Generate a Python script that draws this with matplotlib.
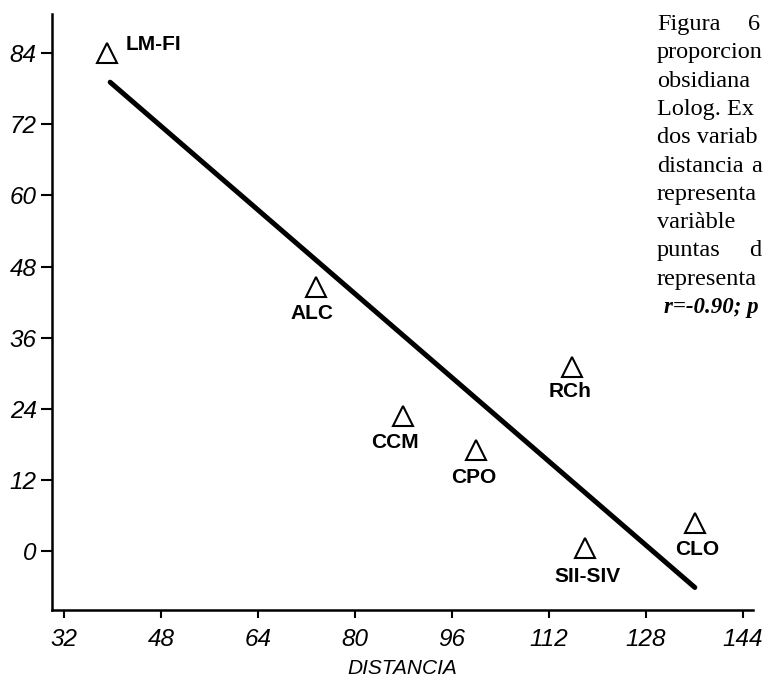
# Figura 6 - proporción de obsidiana vs distancia (Lolog), dispersión + recta de regresión
import matplotlib
matplotlib.use("Agg")
import matplotlib.pyplot as plt

sites = ["LM-FI", "ALC", "RCh", "CCM", "CPO", "SII-SIV", "CLO"]
distancia = [39.1, 73.6, 115.8, 87.9, 100.0, 118.0, 136.1]
porcentaje = [84.1, 44.5, 31.0, 22.8, 17.0, 0.5, 4.7]

# extremos de la recta dibujada en la figura
fit_x = [39.6, 136.1]
fit_y = [79.1, -6.1]

x_ticks = [32, 48, 64, 80, 96, 112, 128, 144]
y_ticks = [0, 12, 24, 36, 48, 60, 72, 84]

caption = ["proporcion", "obsidiana", "Lolog. Ex", "dos variab", "distancia",
           "representa", "variàble", "puntas", "representa"]

# desplazamiento de cada etiqueta (puntos)
offsets = {"LM-FI": (13, 6), "ALC": (-3, -19), "RCh": (-1.5, -17), "CCM": (-6, -19),
           "CPO": (-2, -19.5), "SII-SIV": (1.5, -20), "CLO": (1.5, -19)}

fig = plt.figure(figsize=(7.66, 6.84), dpi=100)
ax = fig.add_axes([52/766, 74/684, 701/766, 596/684])

ax.plot(fit_x, fit_y, color="black", lw=3.6, solid_capstyle="round")
ax.plot(distancia, porcentaje, linestyle="none", marker="^", ms=15,
        mfc="white", mec="black", mew=1.5)

for s, x, y in zip(sites, distancia, porcentaje):
    dx, dy = offsets[s]
    ha = "left" if s == "LM-FI" else "center"
    ax.annotate(s, (x, y), xytext=(dx, dy), textcoords="offset points",
                ha=ha, va="center", fontsize=15, fontweight="bold",
                family="Liberation Sans")

ax.set_xlim(30.0, 145.7)
ax.set_ylim(-9.9, 90.6)
ax.set_xticks(x_ticks)
ax.set_yticks(y_ticks)
for lab in ax.get_xticklabels() + ax.get_yticklabels():
    lab.set_fontstyle("italic")
    lab.set_fontsize(17.5)
    lab.set_family("Liberation Sans")
ax.tick_params(axis="x", length=6, width=1.5, pad=7)
ax.tick_params(axis="y", length=8, width=1.5, pad=3)
ax.spines[["top", "right"]].set_visible(False)
for sp in ["left", "bottom"]:
    ax.spines[sp].set_linewidth(1.8)
ax.set_xlabel("DISTANCIA", fontsize=15, fontstyle="italic", family="Liberation Sans",
              labelpad=6)

# texto del pie de figura (a la derecha, arriba)
tkw = dict(fontsize=17.5, family="Liberation Serif", va="baseline", ha="left")
fig.text(657/766, 1 - 30/684, "Figura", **tkw)
fig.text(748/766, 1 - 30/684, "6", **tkw)
for i, line in enumerate(caption):
    yb = 30 + 28.3 * (i + 1)
    fig.text(657/766, 1 - yb/684, line, **tkw)
fig.text(751/766, 1 - (30 + 28.3 * 5)/684, "a", **tkw)
fig.text(749/766, 1 - (30 + 28.3 * 8)/684, "d", **tkw)
fig.text(664/766, 1 - (30 + 28.3 * 10)/684, "r=-0.90; p", fontsize=16.5,
         family="Liberation Serif", fontweight="bold", fontstyle="italic",
         va="baseline", ha="left")

fig.savefig("out.png", dpi=100)
